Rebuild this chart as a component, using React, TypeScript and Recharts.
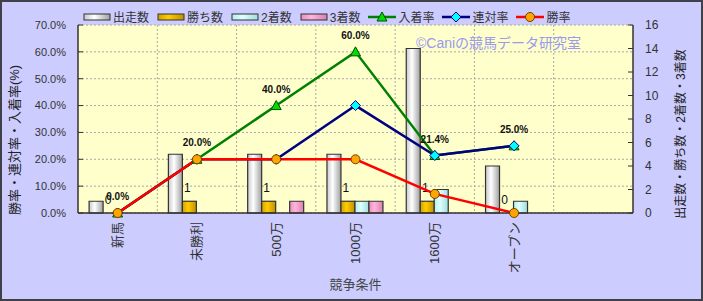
import React from "react";
import {
  ComposedChart, Bar, Line, XAxis, YAxis, CartesianGrid, Legend, LabelList, Label
} from "recharts";

const categories = ["新馬", "未勝利", "500万", "1000万", "1600万", "オープン", ""];
const runs = [1, 5, 5, 5, 14, 4, null];
const wins = [0, 1, 1, 1, 1, 0, null];
const seconds = [0, 0, 0, 1, 2, 1, null];
const thirds = [0, 0, 1, 1, 0, 0, null];
const placeRate = [0, 20, 40, 60, 21.4, 25, null];
const quinellaRate = [0, 20, 20, 40, 21.4, 25, null];
const winRate = [0, 20, 20, 20, 7.1, 0, null];
const leftTicks = [0, 10, 20, 30, 40, 50, 60, 70];
const rightTicks = [0, 2, 4, 6, 8, 10, 12, 14, 16];
const legendOrder = ["出走数", "勝ち数", "2着数", "3着数", "入着率", "連対率", "勝率"];

const data = categories.map((name, i) => ({
  name,
  出走数: runs[i],
  勝ち数: wins[i],
  "2着数": seconds[i],
  "3着数": thirds[i],
  入着率: placeRate[i],
  連対率: quinellaRate[i],
  勝率: winRate[i],
}));

const FONT = '"Liberation Sans", "Noto Sans CJK JP", sans-serif';
const TEXT = "#333";

const barGrad: Record<string, string> = {
  出走数: "url(#gRun)",
  勝ち数: "url(#gWin)",
  "2着数": "url(#gSecond)",
  "3着数": "url(#gThird)",
};

const lineStyle: Record<string, { stroke: string; shape: string }> = {
  入着率: { stroke: "#008000", shape: "triangle" },
  連対率: { stroke: "#000080", shape: "diamond" },
  勝率: { stroke: "#ff0000", shape: "circle" },
};

function Marker({ cx, cy, shape }: { cx: number; cy: number; shape: string }) {
  if (cx == null || cy == null) return null;
  if (shape === "triangle")
    return (
      <polygon
        points={`${cx},${cy - 5} ${cx - 5},${cy + 4} ${cx + 5},${cy + 4}`}
        fill="#00dd00" stroke="#005000" strokeWidth={1}
      />
    );
  if (shape === "diamond")
    return (
      <polygon
        points={`${cx},${cy - 5} ${cx + 5},${cy} ${cx},${cy + 5} ${cx - 5},${cy}`}
        fill="#00ffff" stroke="#000080" strokeWidth={1}
      />
    );
  return <circle cx={cx} cy={cy} r={4.5} fill="#ffa500" stroke="#704000" strokeWidth={1} />;
}

const dotFor = (shape: string) => (p: any) =>
  p.value == null ? <g key={p.index} /> : <Marker key={p.index} cx={p.cx} cy={p.cy} shape={shape} />;

function LegendContent({ payload }: any) {
  const items = [...(payload || [])].sort(
    (a: any, b: any) => legendOrder.indexOf(String(a.dataKey)) - legendOrder.indexOf(String(b.dataKey))
  );
  return (
    <div style={{ display: "flex", alignItems: "center", fontSize: 12, color: TEXT, fontFamily: FONT, whiteSpace: "nowrap" }}>
      {items.map((e: any) => {
        const key = String(e.dataKey);
        const ls = lineStyle[key];
        return (
          <div key={key} style={{ display: "flex", alignItems: "center", marginRight: 8 }}>
            <svg width={28} height={12}>
              {ls ? (
                <>
                  <line x1={0} y1={6} x2={28} y2={6} stroke={ls.stroke} strokeWidth={2.5} />
                  <Marker cx={14} cy={6} shape={ls.shape} />
                </>
              ) : (
                <rect x={1} y={3} width={26} height={6} fill={barGrad[key]} stroke="#333" strokeWidth={1} />
              )}
            </svg>
            <span style={{ marginLeft: 2 }}>{e.value}</span>
          </div>
        );
      })}
    </div>
  );
}

function XTick({ x, y, payload }: any) {
  return (
    <text
      x={x} y={y} transform={`rotate(-90, ${x}, ${y})`} textAnchor="end" dy="0.35em"
      fontSize={13} fill={TEXT} fontFamily={FONT}
    >
      {payload.value}
    </text>
  );
}

const rateLabel = (p: any) => {
  if (p.value == null) return null;
  return (
    <text x={p.x} y={p.y - 13} textAnchor="middle" fontSize={10} fontWeight="bold" fill="#111" fontFamily={FONT}>
      {Number(p.value).toFixed(1)}%
    </text>
  );
};

// win-count bar: draws its own rect and the count above it (also for zero)
const WinBar = (p: any) => {
  const { x, y, width, height, fill, stroke, strokeWidth } = p;
  const v = p.payload ? p.payload["勝ち数"] : p.value;
  if (v == null || x == null) return <g />;
  return (
    <g>
      {height > 0 && <rect x={x} y={y} width={width} height={height} fill={fill} stroke={stroke} strokeWidth={strokeWidth} />}
      <text x={x + width / 2 - 2} y={y - 9} textAnchor="middle" fontSize={12} fill="#111" fontFamily={FONT}>
        {String(v)}
      </text>
    </g>
  );
};

export default function App() {
  return (
    <div style={{ position: "absolute", left: 0, top: 0, width: 703, height: 301, background: "#ccccff" }}>
      <svg width={0} height={0} style={{ position: "absolute" }}>
        <defs>
          <linearGradient id="gRun" x1="0" y1="0" x2="1" y2="0">
            <stop offset="0%" stopColor="#c8c8c8" />
            <stop offset="40%" stopColor="#ffffff" />
            <stop offset="100%" stopColor="#a0a0a0" />
          </linearGradient>
          <linearGradient id="gWin" x1="0" y1="0" x2="1" y2="0">
            <stop offset="0%" stopColor="#d0a000" />
            <stop offset="40%" stopColor="#ffcc00" />
            <stop offset="100%" stopColor="#c09000" />
          </linearGradient>
          <linearGradient id="gSecond" x1="0" y1="0" x2="1" y2="0">
            <stop offset="0%" stopColor="#b0eeee" />
            <stop offset="40%" stopColor="#e0ffff" />
            <stop offset="100%" stopColor="#a0dcdc" />
          </linearGradient>
          <linearGradient id="gThird" x1="0" y1="0" x2="1" y2="0">
            <stop offset="0%" stopColor="#e890c0" />
            <stop offset="40%" stopColor="#ffb4dc" />
            <stop offset="100%" stopColor="#d880b0" />
          </linearGradient>
        </defs>
      </svg>
      <ComposedChart
        width={703}
        height={301}
        data={data}
        margin={{ top: 25, right: 0, bottom: 0, left: 0 }}
        barCategoryGap="14%"
        barGap={0}
      >
        <CartesianGrid
          yAxisId="left"
          fill="#ffffcc"
          stroke="#a8a8a8"
          strokeDasharray="2 2"
          verticalCoordinatesGenerator={({ offset }: any) =>
            categories.slice(1).map((_, i) => offset.left + ((i + 1) * offset.width) / categories.length)
          }
        />
        <XAxis
          dataKey="name"
          interval={0}
          height={88}
          tickLine={false}
          tickSize={0}
          tickMargin={9}
          axisLine={{ stroke: "#333", strokeWidth: 1.5 }}
          tick={<XTick />}
        >
          <Label
            content={({ viewBox }: any) => (
              <text
                x={viewBox.x + viewBox.width / 2} y={viewBox.y + 76} textAnchor="middle"
                fontSize={13} fill="#444" fontFamily={FONT}
              >
                競争条件
              </text>
            )}
          />
        </XAxis>
        <YAxis
          yAxisId="left"
          width={78}
          domain={[0, 70]}
          ticks={leftTicks}
          tickFormatter={(v: number) => v.toFixed(1) + "%"}
          tickSize={-5}
          tickMargin={17}
          tick={{ fontSize: 11, fill: TEXT, fontFamily: FONT }}
          tickLine={{ stroke: "#333" }}
          axisLine={{ stroke: "#333", strokeWidth: 1.5 }}
        >
          <Label
            content={({ viewBox }: any) => {
              const x = viewBox.x + 14;
              const y = viewBox.y + viewBox.height / 2 + 21;
              return (
                <text
                  x={x} y={y} transform={`rotate(-90, ${x}, ${y})`} textAnchor="middle" dy="0.35em"
                  fontSize={13} fill="#222" fontFamily={FONT}
                >
                  勝率・連対率・入着率(%)
                </text>
              );
            }}
          />
        </YAxis>
        <YAxis
          yAxisId="right"
          orientation="right"
          width={70}
          domain={[0, 16]}
          ticks={rightTicks}
          tickSize={-5}
          tickMargin={17}
          tick={{ fontSize: 12, fill: TEXT, fontFamily: FONT, textAnchor: "start" }}
          tickLine={{ stroke: "#333" }}
          axisLine={{ stroke: "#333", strokeWidth: 1.5 }}
        >
          <Label
            content={({ viewBox }: any) => {
              const x = viewBox.x + 48;
              const y = viewBox.y + viewBox.height / 2 + 15;
              return (
                <text
                  x={x} y={y} transform={`rotate(-90, ${x}, ${y})`} textAnchor="middle" dy="0.35em"
                  fontSize={12} fill="#222" fontFamily={FONT}
                >
                  出走数・勝ち数・2着数・3着数
                </text>
              );
            }}
          />
        </YAxis>
        <Legend
          layout="horizontal"
          verticalAlign="middle"
          align="center"
          wrapperStyle={{ top: 8, left: 83, width: "auto" }}
          content={<LegendContent />}
        />
        <Bar yAxisId="right" dataKey="出走数" fill={barGrad["出走数"]} stroke="#333" strokeWidth={1.2} isAnimationActive={false} />
        <Bar
          yAxisId="right" dataKey="勝ち数" fill={barGrad["勝ち数"]} stroke="#333" strokeWidth={1.2}
          shape={WinBar} isAnimationActive={false}
        />
        <Bar yAxisId="right" dataKey="2着数" fill={barGrad["2着数"]} stroke="#333" strokeWidth={1.2} isAnimationActive={false} />
        <Bar yAxisId="right" dataKey="3着数" fill={barGrad["3着数"]} stroke="#333" strokeWidth={1.2} isAnimationActive={false} />
        <Line
          yAxisId="left" dataKey="入着率" stroke={lineStyle["入着率"].stroke} strokeWidth={2.5}
          dot={dotFor("triangle")} activeDot={false} isAnimationActive={false}
        >
          <LabelList dataKey="入着率" content={rateLabel} />
        </Line>
        <Line
          yAxisId="left" dataKey="連対率" stroke={lineStyle["連対率"].stroke} strokeWidth={2.5}
          dot={dotFor("diamond")} activeDot={false} isAnimationActive={false}
        />
        <Line
          yAxisId="left" dataKey="勝率" stroke={lineStyle["勝率"].stroke} strokeWidth={2.5}
          dot={dotFor("circle")} activeDot={false} isAnimationActive={false}
        />
        <text x={416} y={48} fontSize={14} fill="#9999ee" fontFamily={FONT}>
          ©Caniの競馬データ研究室
        </text>
      </ComposedChart>
      <div
        style={{
          position: "absolute", left: 0, top: 0, width: 703, height: 301,
          border: "2px solid #404048", boxSizing: "border-box", pointerEvents: "none",
        }}
      />
    </div>
  );
}
